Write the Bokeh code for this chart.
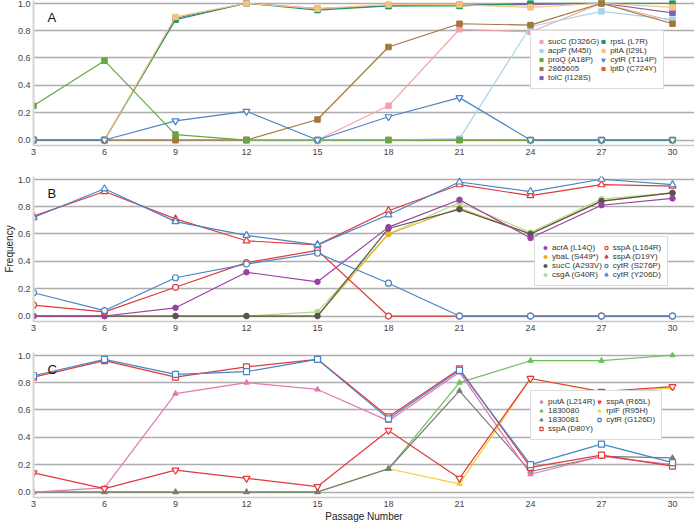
from bokeh.plotting import figure
from bokeh.layouts import column
from bokeh.models import (Legend, LegendItem, Label, FixedTicker,
                          NumeralTickFormatter, Range1d)
from bokeh.embed import file_html
from bokeh.resources import INLINE

# ---------------- data ----------------
passages = [3, 6, 9, 12, 15, 18, 21, 24, 27, 30]
y_ticks = [0.0, 0.2, 0.4, 0.6, 0.8, 1.0]

# Panel A
a_sucC_D326G = [0, 0, 0, 0, 0, 0.25, 0.81, 0.79, 1.0, 0.87]
a_acpP_M45I = [0, 0, 0, 0, 0, 0, 0.01, 0.83, 0.94, 0.88]
a_proQ_A18P = [0.25, 0.58, 0.04, 0, 0, 0, 0, 0, 0, 0]
a_2865605 = [0, 0, 0, 0, 0.15, 0.68, 0.85, 0.84, 1.0, 0.85]
a_tolC_I128S = [0, 0, 0.89, 1.0, 0.96, 0.98, 0.99, 0.99, 1.0, 0.93]
a_rpsL_L7R = [0, 0, 0.88, 1.0, 0.95, 0.98, 0.98, 1.0, 1.0, 1.0]
a_pitA_I29L = [0, 0, 0.90, 1.0, 0.96, 0.99, 0.99, 0.97, 1.0, 0.97]
a_cytR_T114P = [0, 0, 0.14, 0.21, 0, 0.17, 0.31, 0, 0, 0]
a_lptD_C724Y = [0, 0, 0, 0, 0, 0, 0, 0, 0, 0]

# Panel B
b_acrA_L14Q = [0, 0, 0.06, 0.32, 0.25, 0.65, 0.85, 0.57, 0.81, 0.86]
b_ybaL_S449 = [0, 0, 0, 0, 0, 0.60, 0.79, 0.60, 0.84, 0.90]
b_sucC_A293V = [0, 0, 0, 0, 0, 0.64, 0.78, 0.60, 0.84, 0.90]
b_csgA_G40R = [0, 0, 0, 0, 0.03, 0.60, 0.83, 0.61, 0.855, 0.90]
b_sspA_L164R = [0.08, 0.03, 0.21, 0.39, 0.48, 0, 0, 0, 0, 0]
b_sspA_D19Y = [0.73, 0.91, 0.71, 0.55, 0.52, 0.77, 0.96, 0.88, 0.96, 0.95]
b_cytR_S276P = [0.17, 0.04, 0.28, 0.38, 0.46, 0.24, 0, 0, 0, 0]
b_cytR_Y206D = [0.72, 0.93, 0.69, 0.59, 0.52, 0.74, 0.98, 0.91, 1.0, 0.96]

# Panel C
c_putA_L214R = [0, 0.03, 0.72, 0.80, 0.75, 0.52, 0.875, 0.13, 0.26, 0.20]
c_1830080 = [0, 0, 0, 0, 0, 0.17, 0.80, 0.96, 0.96, 1.0]
c_1830081 = [0, 0, 0, 0, 0, 0.17, 0.74, 0.15, 0.26, 0.25]
c_sspA_D80Y = [0.84, 0.96, 0.84, 0.915, 0.97, 0.55, 0.90, 0.18, 0.27, 0.19]
c_sspA_R65L = [0.14, 0.025, 0.16, 0.10, 0.04, 0.45, 0.10, 0.83, 0.735, 0.77]
c_rplF_R95H = [0, 0, 0, 0, 0, 0.17, 0.06, 0.83, 0.73, 0.76]
c_cytR_G126D = [0.85, 0.97, 0.86, 0.88, 0.97, 0.535, 0.89, 0.20, 0.35, 0.215]

FONT = "Liberation Sans"
TXT = "#333333"


def make_fig(bottom_border):
    p = figure(frame_width=661, frame_height=145,
               x_range=Range1d(3, 30.93), y_range=Range1d(-0.04, 1.02),
               output_backend="svg", toolbar_location=None,
               min_border_left=33, min_border_right=0,
               min_border_top=0, min_border_bottom=bottom_border)
    p.outline_line_color = None
    p.background_fill_color = "white"
    p.border_fill_color = "white"
    p.xgrid.grid_line_color = None
    p.ygrid.ticker = FixedTicker(ticks=y_ticks)
    p.ygrid.grid_line_color = "#adadad"
    p.ygrid.grid_line_width = 1.3
    p.yaxis.ticker = FixedTicker(ticks=y_ticks)
    p.yaxis.formatter = NumeralTickFormatter(format="0.0")
    p.xaxis.ticker = FixedTicker(ticks=passages)
    for ax in (p.xaxis, p.yaxis):
        ax.major_tick_line_color = None
        ax.minor_tick_line_color = None
        ax.major_tick_out = 0
        ax.major_tick_in = 0
        ax.minor_tick_out = 0
        ax.minor_tick_in = 0
        ax.major_label_text_font = FONT
        ax.major_label_text_font_size = "9px"
        ax.major_label_text_color = "#444444"
        ax.axis_label_text_font = FONT
        ax.axis_label_text_font_size = "10px"
        ax.axis_label_text_font_style = "normal"
        ax.axis_label_text_color = "#222222"
    p.xaxis.major_label_standoff = 3
    p.xaxis.axis_label_standoff = 1
    p.yaxis.major_label_standoff = 3
    p.yaxis.axis_label_standoff = 0
    p.yaxis.axis_line_color = "#d4d4d4"
    p.yaxis.axis_line_width = 2
    p.xaxis.axis_line_color = "#c8c8c8"
    p.xaxis.axis_line_width = 1.5
    return p


def series(p, y, color, marker, open_marker=False, size=5.5, lw=1.2):
    p.line(passages, y, line_color=color, line_width=lw)
    r = p.scatter(passages, y, marker=marker, size=size,
                  line_color=color, line_width=1.2 if open_marker else 1,
                  fill_color="white" if open_marker else color)
    return r


def add_legend(p, items, loc, nrows):
    lg = Legend(items=[LegendItem(label=l, renderers=[r]) for l, r in items],
                location=loc, nrows=nrows, orientation="vertical",
                label_text_font=FONT, label_text_font_size="8px",
                label_text_color=TXT, label_height=9, glyph_height=9,
                glyph_width=8, label_standoff=3, spacing=0, padding=6,
                margin=0, border_line_color="#b8b8b8", border_line_width=1.3,
                background_fill_color="white", background_fill_alpha=1.0)
    p.add_layout(lg, "center")


def panel_letter(p, txt):
    p.add_layout(Label(x=14, y=136, x_units="screen", y_units="screen",
                       text=txt, text_font=FONT, text_font_size="13px",
                       text_color="#111111", text_baseline="top"))


# ---------------- Panel A ----------------
pa = make_fig(31)
rA_lptD = series(pa, a_lptD_C724Y, "#d9622b", "square")
rA_sucC = series(pa, a_sucC_D326G, "#f4a3a8", "square")
rA_acpP = series(pa, a_acpP_M45I, "#a9d4e8", "square")
rA_tolC = series(pa, a_tolC_I128S, "#7866b0", "square")
rA_rpsL = series(pa, a_rpsL_L7R, "#23936a", "square")
rA_pitA = series(pa, a_pitA_I29L, "#f7c37c", "square")
rA_2865 = series(pa, a_2865605, "#a5773a", "square")
rA_proQ = series(pa, a_proQ_A18P, "#64a844", "square")
rA_cytR = series(pa, a_cytR_T114P, "#4a84c4", "inverted_triangle", True, 7)
add_legend(pa, [("sucC (D326G)", rA_sucC), ("acpP (M45I)", rA_acpP),
                ("proQ (A18P)", rA_proQ), ("2865605", rA_2865),
                ("tolC (I128S)", rA_tolC), ("rpsL (L7R)", rA_rpsL),
                ("pitA (I29L)", rA_pitA), ("cytR (T114P)", rA_cytR),
                ("lptD (C724Y)", rA_lptD)], (497, 56), 5)
panel_letter(pa, "A")

# ---------------- Panel B ----------------
pb = make_fig(31)
pb.yaxis.axis_label = "Frequency"
rB_csgA = series(pb, b_csgA_G40R, "#b3d88a", "circle")
rB_ybaL = series(pb, b_ybaL_S449, "#e8b321", "circle")
rB_sucC = series(pb, b_sucC_A293V, "#555555", "circle")
rB_acrA = series(pb, b_acrA_L14Q, "#9b3fa6", "circle")
rB_L164R = series(pb, b_sspA_L164R, "#e2393a", "circle", True, 6)
rB_S276P = series(pb, b_cytR_S276P, "#4a84c4", "circle", True, 6)
rB_D19Y = series(pb, b_sspA_D19Y, "#e2393a", "triangle", True, 7)
rB_Y206D = series(pb, b_cytR_Y206D, "#4a84c4", "triangle", True, 7)
add_legend(pb, [("acrA (L14Q)", rB_acrA), ("ybaL (S449*)", rB_ybaL),
                ("sucC (A293V)", rB_sucC), ("csgA (G40R)", rB_csgA),
                ("sspA (L164R)", rB_L164R), ("sspA (D19Y)", rB_D19Y),
                ("cytR (S276P)", rB_S276P), ("cytR (Y206D)", rB_Y206D)],
           (501, 35), 4)
panel_letter(pb, "B")

# ---------------- Panel C ----------------
pc = make_fig(29)
pc.xaxis.axis_label = "Passage Number"
rC_rplF = series(pc, c_rplF_R95H, "#f2cf35", "triangle")
rC_1830080 = series(pc, c_1830080, "#6fbf5f", "triangle")
rC_1830081 = series(pc, c_1830081, "#7a7a7a", "triangle")
rC_putA = series(pc, c_putA_L214R, "#e377b4", "triangle")
rC_R65L = series(pc, c_sspA_R65L, "#e2393a", "inverted_triangle", True, 7)
rC_D80Y = series(pc, c_sspA_D80Y, "#e2393a", "square", True, 6)
rC_G126D = series(pc, c_cytR_G126D, "#4a84c4", "square", True, 6)
add_legend(pc, [("putA (L214R)", rC_putA), ("1830080", rC_1830080),
                ("1830081", rC_1830081), ("sspA (D80Y)", rC_D80Y),
                ("sspA (R65L)", rC_R65L), ("rplF (R95H)", rC_rplF),
                ("cytR (G126D)", rC_G126D)], (497, 57), 4)
panel_letter(pc, "C")

layout = column(pa, pb, pc, spacing=0)
open("out.html", "w").write(file_html(layout, INLINE))
